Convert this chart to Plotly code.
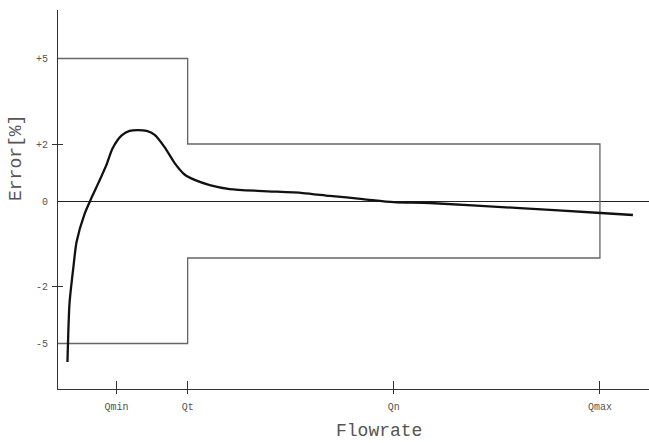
import plotly.graph_objects as go

# ---- data (schematic units) ----
flow_ticks = [0.655, 1.0, 2.0, 3.0]
flow_labels = ["Qmin", "Qt", "Qn", "Qmax"]
err_ticks = [5, 2, 0, -3, -5]
err_labels = ["+5", "+2", "0", "-2", "-5"]
err_cross_ticks = [2, -3]

curve_x = [0.417, 0.427, 0.446, 0.461, 0.500, 0.534, 0.570, 0.605, 0.636, 0.680, 0.718, 0.757,
           0.801, 0.840, 0.888, 0.937, 0.985, 1.034, 1.107, 1.204, 1.364, 1.558,
           1.689, 1.850, 2.000, 2.175, 2.612, 3.005, 3.160]
curve_y = [-5.65, -3.58, -2.30, -1.44, -0.45, 0.12, 0.68, 1.25, 1.85, 2.30, 2.46, 2.49,
           2.46, 2.32, 1.89, 1.33, 0.93, 0.74, 0.56, 0.42, 0.35, 0.28,
           0.18, 0.07, -0.04, -0.07, -0.25, -0.42, -0.49]

Q_T, Q_MAX = 1.0, 3.0
X_RANGE = [0.371, 3.238]
Y_RANGE = [-6.596, 6.702]
env_upper = [5, 2]
env_lower = [-5, -2]

env_x = [X_RANGE[0], Q_T, Q_T, Q_MAX, Q_MAX, Q_T, Q_T, X_RANGE[0]]
env_y = [env_upper[0], env_upper[0], env_upper[1], env_upper[1],
         env_lower[1], env_lower[1], env_lower[0], env_lower[0]]

FONT = "Liberation Mono"
TXT = "#555555"

fig = go.Figure()
fig.add_trace(go.Scatter(x=env_x, y=env_y, mode="lines",
                         line=dict(color="#666666", width=1.3),
                         hoverinfo="skip", showlegend=False))
fig.add_trace(go.Scatter(x=curve_x, y=curve_y, mode="lines",
                         line=dict(color="#111111", width=2.3, shape="spline", smoothing=0.7),
                         showlegend=False))
# dummy traces so overlay axes are drawn
fig.add_trace(go.Scatter(x=[], y=[], xaxis="x2", yaxis="y2", showlegend=False))
fig.add_trace(go.Scatter(x=[], y=[], xaxis="x2", yaxis="y3", showlegend=False))

fig.update_layout(
    width=649, height=443,
    margin=dict(l=58, r=0, t=10, b=54),
    paper_bgcolor="white", plot_bgcolor="white",
    xaxis=dict(range=X_RANGE, tickvals=flow_ticks, ticktext=flow_labels,
               ticks="inside", ticklen=8, tickcolor="#333333", tickwidth=1,
               showline=True, linecolor="#333333", linewidth=1,
               showgrid=False, zeroline=False, ticklabelstandoff=8,
               tickfont=dict(family=FONT, size=10, color=TXT)),
    xaxis2=dict(range=X_RANGE, overlaying="x", anchor="y", side="bottom",
                tickvals=flow_ticks, ticks="outside", ticklen=4,
                tickcolor="#333333", showticklabels=False,
                showline=False, showgrid=False, zeroline=False),
    yaxis=dict(range=Y_RANGE, tickvals=err_ticks, ticktext=err_labels,
               ticks="", showline=True, linecolor="#333333", linewidth=1,
               showgrid=False, zeroline=True, zerolinecolor="#222222",
               zerolinewidth=1, ticklabelstandoff=7,
               tickfont=dict(family=FONT, size=10, color=TXT)),
    yaxis2=dict(range=Y_RANGE, overlaying="y", anchor="x", side="left",
                tickvals=err_cross_ticks, ticks="outside", ticklen=5,
                tickcolor="#333333", showticklabels=False,
                showline=False, showgrid=False, zeroline=False),
    yaxis3=dict(range=Y_RANGE, overlaying="y", anchor="x", side="left",
                tickvals=err_cross_ticks, ticks="inside", ticklen=5,
                tickcolor="#333333", showticklabels=False,
                showline=False, showgrid=False, zeroline=False),
    annotations=[
        dict(text="Flowrate", xref="paper", yref="paper", x=0.5427, y=-0.111,
             xanchor="center", yanchor="middle", showarrow=False,
             font=dict(family=FONT, size=18, color=TXT)),
        dict(text="Error[%]", xref="paper", yref="paper", x=-0.0711, y=0.6095,
             xanchor="center", yanchor="middle", showarrow=False, textangle=-90,
             font=dict(family=FONT, size=18, color=TXT)),
    ],
)

fig.write_html("out.html", config={"displayModeBar": False},
               post_script="document.body.style.margin='0';")
